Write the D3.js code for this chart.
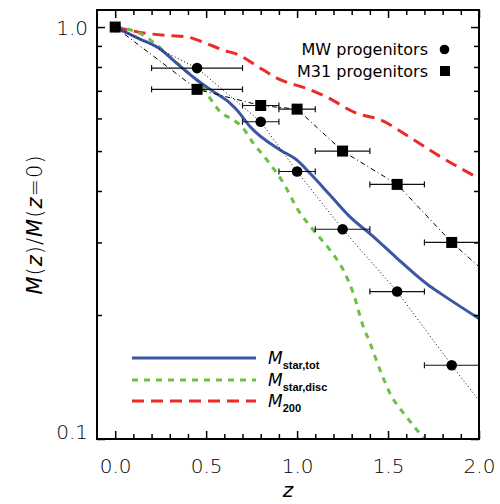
<!DOCTYPE html>
<html>
<head>
<meta charset="utf-8">
<script src="https://cdn.jsdelivr.net/npm/d3@7"></script>
<style>
  html, body { margin: 0; padding: 0; background: #fff; }
  svg { display: block; }
  text { font-family: "DejaVu Sans", sans-serif; fill: #000; }
</style>
</head>
<body>
<script>
// ---------------- data ----------------
const xTickValues = [0.0, 0.5, 1.0, 1.5, 2.0];
const xTickLabels = ["0.0", "0.5", "1.0", "1.5", "2.0"];
const xMinorTicks = [0.1,0.2,0.3,0.4,0.6,0.7,0.8,0.9,1.1,1.2,1.3,1.4,1.6,1.7,1.8,1.9];
const yTickValues = [0.1, 1.0];
const yTickLabels = ["0.1", "1.0"];
const yMinorTicks = [0.2,0.3,0.4,0.5,0.6,0.7,0.8,0.9];

// MW progenitors (circles)
const mwZ   = [0.00, 0.45, 0.80, 1.00, 1.25, 1.55, 1.85];
const mwM   = [1.000, 0.795, 0.589, 0.446, 0.323, 0.228, 0.151];
const mwZlo = [0.00, 0.20, 0.70, 0.90, 1.10, 1.40, 1.70];
const mwZhi = [0.00, 0.70, 0.90, 1.10, 1.40, 1.70, 2.00];
// dotted line through MW points (runs to the frame)
const mwLineZ = [0.00, 0.45, 0.80, 1.00, 1.25, 1.55, 1.85, 2.00];
const mwLineM = [1.000, 0.795, 0.589, 0.446, 0.323, 0.228, 0.151, 0.124];

// M31 progenitors (squares)
const m31Z   = [0.00, 0.45, 0.80, 1.00, 1.25, 1.55, 1.85];
const m31M   = [1.000, 0.706, 0.645, 0.632, 0.500, 0.415, 0.300];
const m31Zlo = [0.00, 0.20, 0.70, 0.90, 1.10, 1.40, 1.70];
const m31Zhi = [0.00, 0.70, 0.90, 1.10, 1.40, 1.70, 2.00];
// dash-dot line through M31 points
const m31LineZ = [0.00, 0.45, 0.80, 1.00, 1.25, 1.55, 1.85, 2.00];
const m31LineM = [1.000, 0.706, 0.645, 0.632, 0.500, 0.415, 0.300, 0.262];

// M_star,tot (blue solid)
const totZ = [0, 0.137, 0.247, 0.339, 0.449, 0.54, 0.632, 0.669, 0.742, 0.907, 0.998, 1.071, 1.181, 1.291, 1.419, 1.548, 1.721, 1.786, 2.0];
const totM = [1, 0.935, 0.885, 0.816, 0.744, 0.697, 0.653, 0.629, 0.573, 0.503, 0.476, 0.4415, 0.391, 0.346, 0.310, 0.275, 0.2365, 0.226, 0.196];

// M_star,disc (green dashed)
const discZ = [0, 0.155, 0.229, 0.320, 0.394, 0.467, 0.522, 0.577, 0.650, 0.696, 0.760, 0.834, 0.925, 1.005, 1.088, 1.181, 1.254, 1.309, 1.364, 1.401, 1.456, 1.511, 1.603, 1.70];
const discM = [1, 0.956, 0.904, 0.832, 0.779, 0.730, 0.671, 0.623, 0.595, 0.573, 0.522, 0.476, 0.418, 0.360, 0.322, 0.2875, 0.257, 0.2258, 0.1874, 0.171, 0.147, 0.129, 0.113, 0.100];

// M_200 (red dashed)
const m200Z = [0, 0.175, 0.30, 0.39, 0.50, 0.59, 0.68, 0.77, 0.91, 1.05, 1.16, 1.33, 1.46, 1.60, 1.79, 2.0];
const m200M = [1.0, 0.965, 0.953, 0.947, 0.913, 0.88, 0.855, 0.809, 0.744, 0.71, 0.677, 0.617, 0.595, 0.547, 0.484, 0.429];

const legendKeys = [
  {sub: "star,tot", color: "#3d55a5", dash: null},
  {sub: "star,disc", color: "#6abf45", dash: "6,6"},
  {sub: "200", color: "#ee2a27", dash: "12,7"}
];

// ---------------- layout ----------------
const W = 500, H = 504;
const L = 97, R = 479, T = 10, B = 439;

const svg = d3.select("body").append("svg").attr("width", W).attr("height", H);

const x = d3.scaleLinear().domain([-0.1, 2.0]).range([L, R]);
const y = d3.scaleLog().domain([0.1, 1.1]).range([B, T]);

const defs = svg.append("defs");
defs.append("clipPath").attr("id", "plotclip")
  .append("rect").attr("x", L).attr("y", T).attr("width", R - L).attr("height", B - T);

const zip = (zs, ms) => zs.map((z, i) => [z, ms[i]]);
const line = d3.line().x(d => x(d[0])).y(d => y(d[1]));
const smooth = d3.line().x(d => x(d[0])).y(d => y(d[1])).curve(d3.curveMonotoneX);

const plot = svg.append("g").attr("clip-path", "url(#plotclip)");

// model curves
plot.append("path").datum(zip(m200Z, m200M)).attr("d", smooth)
  .attr("fill", "none").attr("stroke", legendKeys[2].color).attr("stroke-width", 3)
  .attr("stroke-dasharray", legendKeys[2].dash);
plot.append("path").datum(zip(discZ, discM)).attr("d", smooth)
  .attr("fill", "none").attr("stroke", legendKeys[1].color).attr("stroke-width", 3)
  .attr("stroke-dasharray", legendKeys[1].dash);
plot.append("path").datum(zip(totZ, totM)).attr("d", smooth)
  .attr("fill", "none").attr("stroke", legendKeys[0].color).attr("stroke-width", 3);

// progenitor lines
plot.append("path").datum(zip(mwLineZ, mwLineM)).attr("d", line)
  .attr("fill", "none").attr("stroke", "#000").attr("stroke-width", 1)
  .attr("stroke-dasharray", "1,2.5");
plot.append("path").datum(zip(m31LineZ, m31LineM)).attr("d", line)
  .attr("fill", "none").attr("stroke", "#000").attr("stroke-width", 1)
  .attr("stroke-dasharray", "5,3,1,3");

// error bars
function errorBars(zs, ms, lo, hi) {
  const g = plot.append("g").attr("stroke", "#111").attr("stroke-width", 1.2);
  zs.forEach((z, i) => {
    if (hi[i] - lo[i] <= 0) return;
    const yy = y(ms[i]);
    g.append("line").attr("x1", x(lo[i])).attr("x2", x(hi[i])).attr("y1", yy).attr("y2", yy);
    g.append("line").attr("x1", x(lo[i])).attr("x2", x(lo[i])).attr("y1", yy - 3).attr("y2", yy + 3);
    g.append("line").attr("x1", x(hi[i])).attr("x2", x(hi[i])).attr("y1", yy - 3).attr("y2", yy + 3);
  });
}
errorBars(mwZ, mwM, mwZlo, mwZhi);
errorBars(m31Z, m31M, m31Zlo, m31Zhi);

// markers
svg.append("g").selectAll("circle").data(zip(mwZ, mwM)).join("circle")
  .attr("cx", d => x(d[0])).attr("cy", d => y(d[1])).attr("r", 5.3).attr("fill", "#000");
svg.append("g").selectAll("rect").data(zip(m31Z, m31M)).join("rect")
  .attr("x", d => x(d[0]) - 5.5).attr("y", d => y(d[1]) - 5.5)
  .attr("width", 11).attr("height", 11).attr("fill", "#000");

// ---------------- axes ----------------
const axisStyle = g => { g.select(".domain").remove(); g.selectAll("line").attr("stroke", "#000").attr("stroke-width", 1.5); };

svg.append("g").attr("transform", `translate(0,${B})`)
  .call(d3.axisBottom(x).tickValues(xTickValues).tickSize(-8).tickPadding(20)
    .tickFormat((d, i) => xTickLabels[i]))
  .call(axisStyle)
  .call(g => g.selectAll("text").attr("font-size", 20).attr("font-weight", 300));
svg.append("g").attr("transform", `translate(0,${B})`)
  .call(d3.axisBottom(x).tickValues(xMinorTicks).tickSize(-5).tickFormat(""))
  .call(axisStyle);
svg.append("g").attr("transform", `translate(0,${T})`)
  .call(d3.axisTop(x).tickValues(xTickValues).tickSize(-8).tickFormat(""))
  .call(axisStyle);
svg.append("g").attr("transform", `translate(0,${T})`)
  .call(d3.axisTop(x).tickValues(xMinorTicks).tickSize(-5).tickFormat(""))
  .call(axisStyle);

svg.append("g").attr("transform", `translate(${L},0)`)
  .call(d3.axisLeft(y).tickValues(yTickValues).tickSize(-8).tickPadding(9)
    .tickFormat((d, i) => yTickLabels[i]))
  .call(axisStyle)
  .call(g => g.selectAll("text").attr("font-size", 20).attr("font-weight", 300)
    .attr("dy", d => d === 0.1 ? "-0.05em" : "0.35em"));
svg.append("g").attr("transform", `translate(${L},0)`)
  .call(d3.axisLeft(y).tickValues(yMinorTicks).tickSize(-5).tickFormat(""))
  .call(axisStyle);
svg.append("g").attr("transform", `translate(${R},0)`)
  .call(d3.axisRight(y).tickValues(yTickValues).tickSize(-8).tickFormat(""))
  .call(axisStyle);
svg.append("g").attr("transform", `translate(${R},0)`)
  .call(d3.axisRight(y).tickValues(yMinorTicks).tickSize(-5).tickFormat(""))
  .call(axisStyle);

// frame
svg.append("rect").attr("x", L).attr("y", T).attr("width", R - L).attr("height", B - T)
  .attr("fill", "none").attr("stroke", "#000").attr("stroke-width", 2);

// axis titles
svg.append("text").attr("x", (L + R) / 2).attr("y", 497).attr("text-anchor", "middle")
  .attr("font-size", 20).attr("font-style", "italic").attr("font-weight", 300).text("z");

const yl = svg.append("text").attr("transform", `translate(42,${(T + B) / 2}) rotate(-90)`)
  .attr("text-anchor", "middle").attr("font-size", 21).attr("font-weight", 300)
  .attr("letter-spacing", 1);
yl.append("tspan").attr("font-style", "italic").text("M");
yl.append("tspan").text("(");
yl.append("tspan").attr("font-style", "italic").text("z");
yl.append("tspan").text(")/");
yl.append("tspan").attr("font-style", "italic").text("M");
yl.append("tspan").text("(");
yl.append("tspan").attr("font-style", "italic").text("z");
yl.append("tspan").text("=0)");

// ---------------- legends ----------------
svg.append("text").attr("x", 428).attr("y", 55).attr("text-anchor", "end")
  .attr("font-size", 16).text("MW progenitors");
svg.append("circle").attr("cx", 444.5).attr("cy", 49.5).attr("r", 4.8).attr("fill", "#000");
svg.append("text").attr("x", 428).attr("y", 77).attr("text-anchor", "end")
  .attr("font-size", 16).text("M31 progenitors");
svg.append("rect").attr("x", 440).attr("y", 66).attr("width", 10).attr("height", 10).attr("fill", "#000");

const legY = [358, 380, 401];
legendKeys.forEach((k, i) => {
  svg.append("line").attr("x1", 132).attr("x2", 256).attr("y1", legY[i]).attr("y2", legY[i])
    .attr("stroke", k.color).attr("stroke-width", 3).attr("stroke-dasharray", k.dash);
  const t = svg.append("text").attr("x", 268).attr("y", legY[i] + 6);
  t.append("tspan").attr("font-size", 17).attr("font-style", "italic").text("M");
  t.append("tspan").attr("font-size", 11).attr("font-weight", "bold")
    .attr("font-family", "Liberation Sans, sans-serif").attr("dy", 5).text(k.sub);
});
</script>
</body>
</html>
